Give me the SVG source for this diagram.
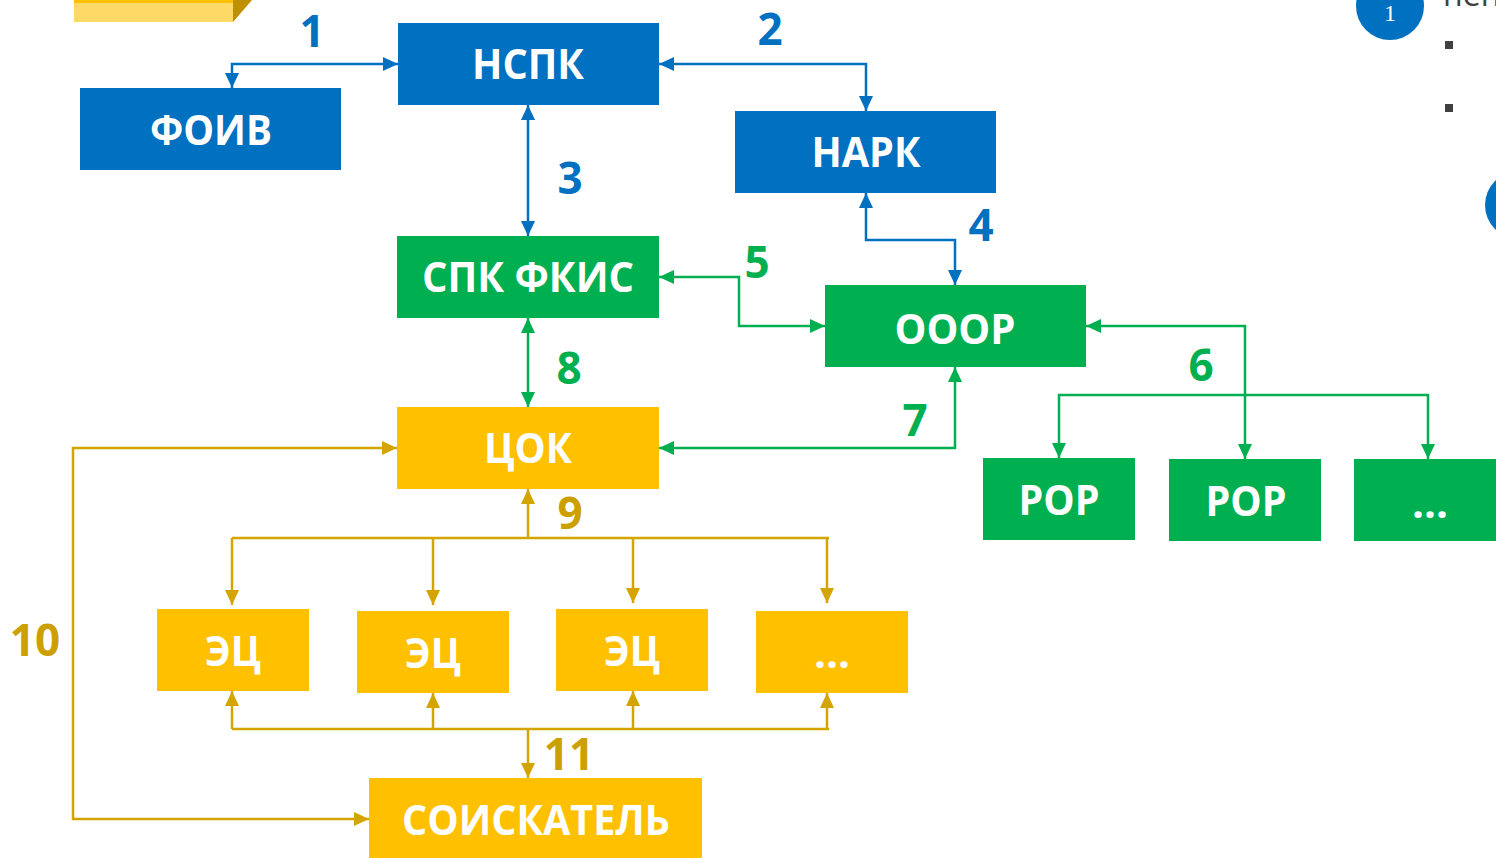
<svg xmlns="http://www.w3.org/2000/svg" width="1496" height="858" viewBox="0 0 1496 858">
<style>
.nt{font-family:"Open Sans","Noto Sans",sans-serif;font-weight:700;font-size:42px;fill:#fff;text-anchor:middle}
.lb{font-family:"Open Sans","Noto Sans",sans-serif;font-weight:700;font-size:44px;text-anchor:middle}
.blue{fill:#0070C0}.green{fill:#00B050}.yel{fill:#FFC000}
.cb{fill:none;stroke:#0070C0;stroke-width:2.5}
.cg{fill:none;stroke:#00B050;stroke-width:2.5}
.cy{fill:none;stroke:#D4A500;stroke-width:2.5}
</style>
<defs>
<marker id="ab" markerUnits="userSpaceOnUse" markerWidth="16" markerHeight="16" refX="15" refY="7" orient="auto-start-reverse" viewBox="0 0 16 14"><path d="M0,0 L15,7 L0,14 z" fill="#0070C0"/></marker>
<marker id="ag" markerUnits="userSpaceOnUse" markerWidth="16" markerHeight="16" refX="15" refY="7" orient="auto-start-reverse" viewBox="0 0 16 14"><path d="M0,0 L15,7 L0,14 z" fill="#00B050"/></marker>
<marker id="ay" markerUnits="userSpaceOnUse" markerWidth="16" markerHeight="16" refX="15" refY="7" orient="auto-start-reverse" viewBox="0 0 16 14"><path d="M0,0 L15,7 L0,14 z" fill="#D4A500"/></marker>
</defs>
<rect width="1496" height="858" fill="#fff"/>
<g id="deco">
<rect x="74" y="0" width="159" height="22" fill="#FFD966"/>
<rect x="74" y="0" width="159" height="3" fill="#FFC000"/>
<polygon points="233,0 252,0 233,22" fill="#BF9000"/>
<circle cx="1390" cy="6" r="34" fill="#0070C0"/>
<text x="1390" y="21" font-family="Liberation Serif,serif" font-size="24" fill="#fff" text-anchor="middle">1</text>
<text x="1443" y="6" font-family="Open Sans,sans-serif" font-size="32" fill="#404040">пеп</text>
<rect x="1445" y="41" width="8" height="8" fill="#404040"/>
<rect x="1445" y="104" width="8" height="8" fill="#404040"/>
<circle cx="1519" cy="205" r="34" fill="#0070C0"/>
</g>
<g id="connectors">
<path class="cb" d="M398,64 H232 V88" marker-start="url(#ab)" marker-end="url(#ab)"/>
<path class="cb" d="M659,64 H866 V111" marker-start="url(#ab)" marker-end="url(#ab)"/>
<path class="cb" d="M528,105 V236" marker-start="url(#ab)" marker-end="url(#ab)"/>
<path class="cb" d="M866,193 V240 H955 V285" marker-start="url(#ab)" marker-end="url(#ab)"/>
<path class="cg" d="M659,277 H739 V326 H825" marker-start="url(#ag)" marker-end="url(#ag)"/>
<path class="cg" d="M1086,326 H1245 V459" marker-start="url(#ag)" marker-end="url(#ag)"/>
<path class="cg" d="M1059,458 V395 H1428 V459" marker-start="url(#ag)" marker-end="url(#ag)"/>
<path class="cg" d="M659,448 H955 V367" marker-start="url(#ag)" marker-end="url(#ag)"/>
<path class="cg" d="M528,318 V407" marker-start="url(#ag)" marker-end="url(#ag)"/>
<path class="cy" d="M528,538 V489" marker-end="url(#ay)"/>
<path class="cy" d="M232,538 H829"/>
<path class="cy" d="M232,538 V605" marker-end="url(#ay)"/>
<path class="cy" d="M433,538 V605" marker-end="url(#ay)"/>
<path class="cy" d="M633,538 V603" marker-end="url(#ay)"/>
<path class="cy" d="M827,538 V603" marker-end="url(#ay)"/>
<path class="cy" d="M232,729 H829"/>
<path class="cy" d="M232,729 V691" marker-end="url(#ay)"/>
<path class="cy" d="M433,729 V693" marker-end="url(#ay)"/>
<path class="cy" d="M633,729 V691" marker-end="url(#ay)"/>
<path class="cy" d="M827,729 V693" marker-end="url(#ay)"/>
<path class="cy" d="M528,729 V778" marker-end="url(#ay)"/>
<path class="cy" d="M397,448 H73 V819 H369" marker-start="url(#ay)" marker-end="url(#ay)"/>
<text class="lb" x="312" y="47" fill="#0070C0">1</text>
<text class="lb" x="770" y="45" fill="#0070C0">2</text>
<text class="lb" x="570" y="194" fill="#0070C0">3</text>
<text class="lb" x="981" y="241" fill="#0070C0">4</text>
<text class="lb" x="757" y="278" fill="#00B050">5</text>
<text class="lb" x="1201" y="381" fill="#00B050">6</text>
<text class="lb" x="915" y="436" fill="#00B050">7</text>
<text class="lb" x="569" y="384" fill="#00B050">8</text>
<text class="lb" x="570" y="529" fill="#CCA000">9</text>
<text class="lb" x="569" y="770" fill="#CCA000">11</text>
<text class="lb" x="35" y="656" fill="#CCA000">10</text>
</g>
<g id="n-foiv"><rect class="blue" x="80" y="88" width="261" height="82"/><text class="nt" x="211" y="145" textLength="122" lengthAdjust="spacingAndGlyphs">ФОИВ</text></g>
<g id="n-nspk"><rect class="blue" x="398" y="23" width="261" height="82"/><text class="nt" x="528" y="79" textLength="112" lengthAdjust="spacingAndGlyphs">НСПК</text></g>
<g id="n-nark"><rect class="blue" x="735" y="111" width="261" height="82"/><text class="nt" x="866" y="167" textLength="109" lengthAdjust="spacingAndGlyphs">НАРК</text></g>
<g id="n-spk"><rect class="green" x="397" y="236" width="262" height="82"/><text class="nt" x="528" y="292" textLength="212" lengthAdjust="spacingAndGlyphs">СПК ФКИС</text></g>
<g id="n-ooor"><rect class="green" x="825" y="285" width="261" height="82"/><text class="nt" x="955" y="344" textLength="121" lengthAdjust="spacingAndGlyphs">ОООР</text></g>
<g id="n-cok"><rect class="yel" x="397" y="407" width="262" height="82"/><text class="nt" x="528" y="463" textLength="88" lengthAdjust="spacingAndGlyphs">ЦОК</text></g>
<g id="n-ror1"><rect class="green" x="983" y="458" width="152" height="82"/><text class="nt" x="1059" y="515" textLength="81" lengthAdjust="spacingAndGlyphs">РОР</text></g>
<g id="n-ror2"><rect class="green" x="1169" y="459" width="152" height="82"/><text class="nt" x="1246" y="516" textLength="81" lengthAdjust="spacingAndGlyphs">РОР</text></g>
<g id="n-ror3"><rect class="green" x="1354" y="459" width="142" height="82"/><text class="nt" x="1430" y="518">...</text></g>
<g id="n-ec1"><rect class="yel" x="157" y="609" width="152" height="82"/><text class="nt" x="233" y="666" textLength="56" lengthAdjust="spacingAndGlyphs">ЭЦ</text></g>
<g id="n-ec2"><rect class="yel" x="357" y="611" width="152" height="82"/><text class="nt" x="433" y="668" textLength="56" lengthAdjust="spacingAndGlyphs">ЭЦ</text></g>
<g id="n-ec3"><rect class="yel" x="556" y="609" width="152" height="82"/><text class="nt" x="632" y="666" textLength="56" lengthAdjust="spacingAndGlyphs">ЭЦ</text></g>
<g id="n-ec4"><rect class="yel" x="756" y="611" width="152" height="82"/><text class="nt" x="832" y="668">...</text></g>
<g id="n-soisk"><rect class="yel" x="369" y="778" width="333" height="80"/><text class="nt" x="536" y="835" textLength="268" lengthAdjust="spacingAndGlyphs">СОИСКАТЕЛЬ</text></g>
</svg>
